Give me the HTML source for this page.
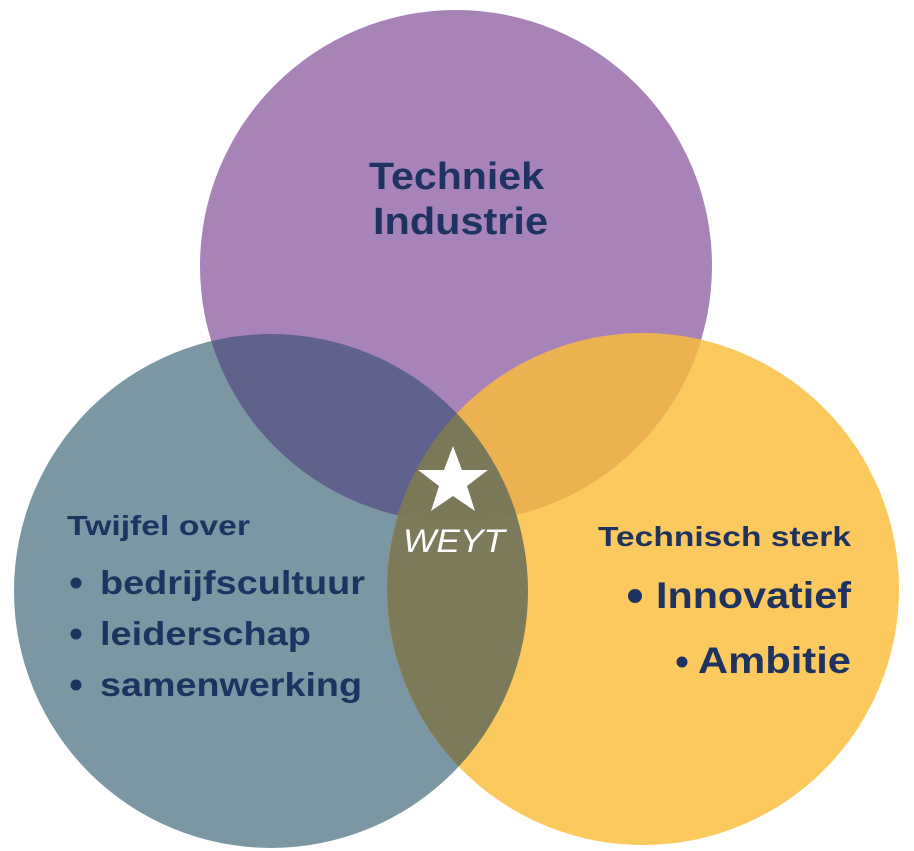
<!DOCTYPE html>
<html><head><meta charset="utf-8"><style>
html,body{margin:0;padding:0;background:#fff;width:914px;height:851px;overflow:hidden}
svg{display:block}
text{font-family:"Liberation Sans",sans-serif;font-weight:bold;fill:#1f3360}
</style></head><body>
<svg width="914" height="851" viewBox="0 0 914 851" xmlns="http://www.w3.org/2000/svg">
<defs>
<clipPath id="cP"><circle cx="456" cy="266" r="256"/></clipPath>
<clipPath id="cB"><circle cx="271" cy="591" r="257"/></clipPath>
<clipPath id="cY"><circle cx="643" cy="589" r="256"/></clipPath>
</defs>
<circle cx="271" cy="591" r="257" fill="#7b97a4"/>
<circle cx="643" cy="589" r="256" fill="#fcc95e"/>
<circle cx="456" cy="266" r="256" fill="#a783b8"/>
<g clip-path="url(#cB)"><circle cx="456" cy="266" r="256" fill="#60628e"/></g>
<g clip-path="url(#cY)"><circle cx="456" cy="266" r="256" fill="#edb250"/></g>
<g clip-path="url(#cB)"><circle cx="643" cy="589" r="256" fill="#7c7a58"/></g>
<g clip-path="url(#cB)"><g clip-path="url(#cY)"><circle cx="456" cy="266" r="256" fill="#7b7857"/></g></g>
<polygon fill="#fff" points="453,446 462,470 488,470 467,486 475,511 453,496 431,511 439,486 418,470 444,470"/>
<text x="403" y="552" textLength="102" lengthAdjust="spacingAndGlyphs" style="font-weight:normal;font-style:italic;fill:#fff;font-size:32px">WEYT</text>
<text x="369" y="189" textLength="175" lengthAdjust="spacingAndGlyphs" font-size="38">Techniek</text>
<text x="373" y="234" textLength="175" lengthAdjust="spacingAndGlyphs" font-size="38">Industrie</text>
<text x="67" y="535" textLength="183" lengthAdjust="spacingAndGlyphs" font-size="28">Twijfel over</text>
<circle cx="76" cy="583" r="5.5" fill="#1f3360"/>
<circle cx="76" cy="634" r="5.5" fill="#1f3360"/>
<circle cx="76" cy="685" r="5.5" fill="#1f3360"/>
<text x="100" y="594" textLength="265" lengthAdjust="spacingAndGlyphs" font-size="33">bedrijfscultuur</text>
<text x="100" y="645" textLength="211" lengthAdjust="spacingAndGlyphs" font-size="33">leiderschap</text>
<text x="100" y="696" textLength="262" lengthAdjust="spacingAndGlyphs" font-size="33">samenwerking</text>
<text x="598" y="546" textLength="253" lengthAdjust="spacingAndGlyphs" font-size="28">Technisch sterk</text>
<circle cx="635" cy="596" r="7" fill="#1f3360"/>
<circle cx="682" cy="662" r="5.5" fill="#1f3360"/>
<text x="656" y="608" textLength="195" lengthAdjust="spacingAndGlyphs" font-size="37">Innovatief</text>
<text x="698" y="673" textLength="153" lengthAdjust="spacingAndGlyphs" font-size="37">Ambitie</text>
</svg>
</body></html>
